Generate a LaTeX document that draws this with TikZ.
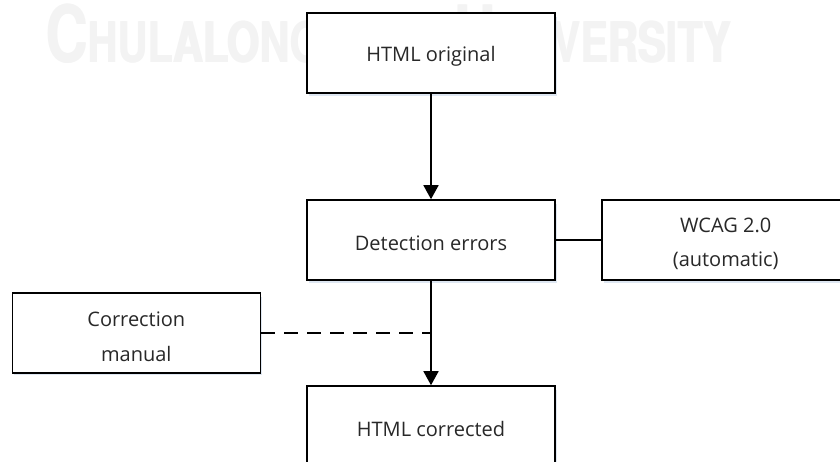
\documentclass[tikz,border=0pt]{standalone}
\usepackage{fontspec}
\setmainfont{Open Sans}
\newfontfamily\wmfont[FakeStretch=0.74]{TeX Gyre Heros}
\usetikzlibrary{arrows.meta}

\definecolor{wmgray}{RGB}{243,243,243}
\definecolor{shadowblue}{RGB}{222,231,242}
\definecolor{textgray}{RGB}{40,40,40}

\tikzset{
  box/.style={draw=black, fill=white, line width=1.6pt, minimum width=248pt,
    minimum height=80pt, inner sep=0pt},
  boxtext/.style={inner sep=0pt, align=center, text=textgray,
    font=\fontsize{20}{34.5}\selectfont},
  wmark/.style={anchor=base west, inner sep=0pt, text=wmgray},
  flow/.style={line width=1.6pt, -{Triangle[length=14pt,width=15pt]}},
  link/.style={line width=1.6pt},
  dashlink/.style={line width=1.6pt, dash pattern=on 14pt off 9pt}
}

\begin{document}
\begin{tikzpicture}[x=1pt, y=1pt]
\useasboundingbox (0,0) rectangle (840,-461);

% faint watermark lettering in the background, set twice for a heavier stroke
\foreach \dx [count=\i] in {0,1.2}
  \node[wmark] (wm\i) at (45+\dx,-62)
    {\wmfont\bfseries{\fontsize{79}{79}\selectfont C}{\fontsize{56}{56}\selectfont HULALONGKORN }{\fontsize{79}{79}\selectfont U}{\fontsize{56}{56}\selectfont NI\hspace{16pt}VERSITY}};

% soft shadows under the boxes
\foreach \cx/\cy in {431/-53, 431/-240, 725.7/-240, 136.3/-332.7, 431/-426}
  \fill[shadowblue] (\cx-122,\cy-42.5) rectangle (\cx+126,\cy+36);

% boxes
\node[box] (orig) at (431,-53) {};
\node[box] (det)  at (431,-240) {};
\node[box] (wcag) at (725.7,-240) {};
\node[box] (man)  at (136.3,-332.7) {};
\node[box] (corr) at (431,-426) {};

% box texts, set a little below the box centres
\node[boxtext] (origt) at ([yshift=-3pt]orig.center) {HTML original};
\node[boxtext] (dett)  at ([yshift=-3pt]det.center) {Detection errors};
\node[boxtext] (wcagt) at ([yshift=-4pt]wcag.center) {WCAG 2.0\\(automatic)};
\node[boxtext] (mant)  at ([yshift=-4pt]man.center) {Correction\\manual};
\node[boxtext] (corrt) at ([yshift=-3pt]corr.center) {HTML corrected};

% connectors
\coordinate (join) at (det.south |- man.east);
\draw[flow] (orig.south) -- (det.north);
\draw[flow] (det.south) -- (corr.north);
\draw[link] (det.east) -- (wcag.west);
\draw[dashlink] (man.east) -- (join);
\end{tikzpicture}
\end{document}
